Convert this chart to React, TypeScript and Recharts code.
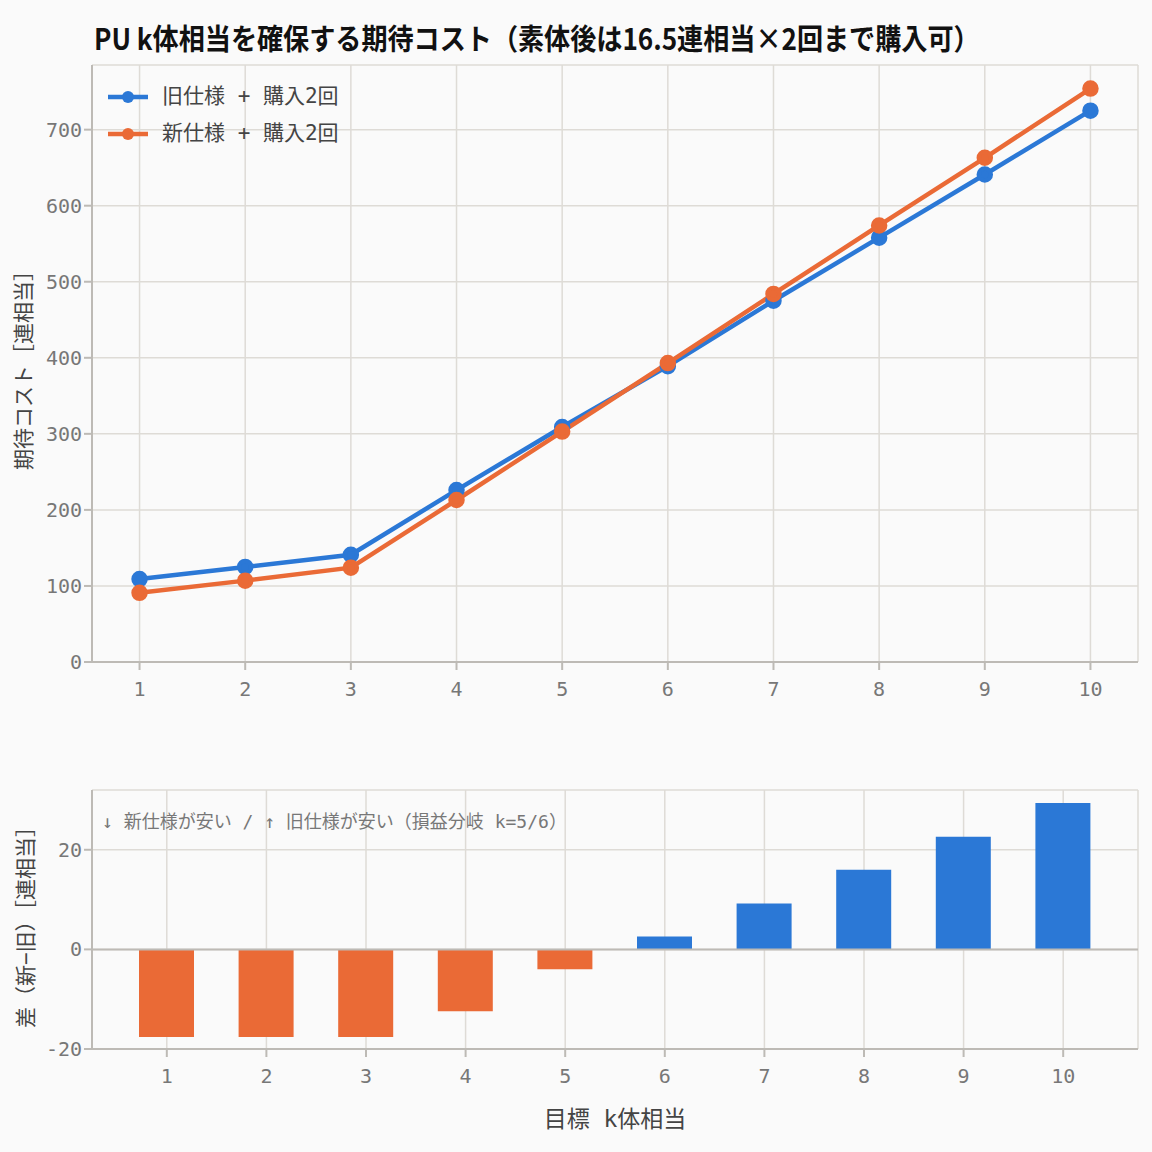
import React from 'react'
import {
  LineChart, Line, BarChart, Bar, XAxis, YAxis, CartesianGrid, ReferenceLine, Cell,
} from 'recharts'

const kValues = [1, 2, 3, 4, 5, 6, 7, 8, 9, 10]
const oldCost = [109, 125, 141, 226, 309, 389, 475, 558, 641, 725]
const newCost = [91, 107, 124, 213, 303, 393, 484, 574, 663, 754]
const diffValues = [-17.6, -17.6, -17.6, -12.4, -4, 2.6, 9.2, 16, 22.6, 29.4]
const topTicks = [0, 100, 200, 300, 400, 500, 600, 700]
const bottomTicks = [-20, 0, 20]

const lineData = kValues.map((k, i) => ({ k, old: oldCost[i], nw: newCost[i] }))
const barData = kValues.map((k, i) => ({ k: String(k), diff: diffValues[i] }))

const FONT = '"DejaVu Sans Mono", "Noto Sans CJK JP", monospace'
const BLUE = '#2b78d6'
const ORANGE = '#ea6a36'
const GRID = '#dedbd6'
const AXIS = '#bdbab5'
const tick = { fill: '#777', fontSize: 20, fontFamily: FONT }

export default function App() {
  return (
    <div style={{ position: 'relative', width: 1152, height: 1152, background: '#fafafa', fontFamily: FONT }}>
      <style>{'body{margin:0}'}</style>
      <div style={{ position: 'absolute', left: 94, top: 16, fontSize: 29, fontWeight: 'bold', color: '#111', fontFamily: '"Noto Sans CJK JP", sans-serif', transform: 'scaleX(0.9)', transformOrigin: 'left', whiteSpace: 'nowrap' }}>
        PU k体相当を確保する期待コスト（素体後は16.5連相当×2回まで購入可）
      </div>

      <div style={{ position: 'absolute', left: 0, top: 0 }}>
        <LineChart width={1152} height={700} data={lineData} margin={{ top: 65, right: 14, bottom: 8, left: 20 }}>
          <CartesianGrid stroke={GRID} strokeWidth={1.5} />
          <XAxis dataKey="k" type="number" domain={[0.55, 10.45]} ticks={kValues} tick={tick}
            stroke={AXIS} strokeWidth={2} tickSize={8} tickMargin={12} />
          <YAxis width={72} domain={[0, 785]} ticks={topTicks} tick={tick} stroke={AXIS} strokeWidth={2}
            tickSize={8} />
          <Line dataKey="old" stroke={BLUE} strokeWidth={4.5} dot={{ r: 6, fill: BLUE, stroke: BLUE }} isAnimationActive={false} />
          <Line dataKey="nw" stroke={ORANGE} strokeWidth={4.5} dot={{ r: 6, fill: ORANGE, stroke: ORANGE }} isAnimationActive={false} />
        </LineChart>
      </div>

      <div style={{ position: 'absolute', left: 104, top: 78, fontSize: 21, color: '#444', lineHeight: '37px' }}>
        {[{ c: BLUE, t: '旧仕様 + 購入2回' }, { c: ORANGE, t: '新仕様 + 購入2回' }].map((l) => (
          <div key={l.t} style={{ display: 'flex', alignItems: 'center' }}>
            <svg width={48} height={20} style={{ marginRight: 10 }}>
              <line x1={4} y1={10} x2={44} y2={10} stroke={l.c} strokeWidth={4.5} />
              <circle cx={24} cy={10} r={6} fill={l.c} />
            </svg>
            {l.t}
          </div>
        ))}
      </div>

      <div style={{ position: 'absolute', left: 22, top: 365, transform: 'translate(-50%,-50%) rotate(-90deg)', fontSize: 21, color: '#444', whiteSpace: 'nowrap' }}>
        期待コスト［連相当］
      </div>

      <div style={{ position: 'absolute', left: 0, top: 700 }}>
        <BarChart width={1152} height={452} data={barData} margin={{ top: 90, right: 14, bottom: 73, left: 20 }} barSize={55}>
          <CartesianGrid stroke={GRID} strokeWidth={1.5} />
          <XAxis dataKey="k" tick={tick} stroke={AXIS} strokeWidth={2} tickSize={8} tickMargin={12} padding={{ left: 25, right: 25 }} />
          <YAxis width={72} domain={[-20, 32]} ticks={bottomTicks} tick={tick} stroke={AXIS} strokeWidth={2} tickSize={8} />
          <ReferenceLine y={0} stroke={AXIS} strokeWidth={2} />
          <Bar dataKey="diff" isAnimationActive={false}>
            {barData.map((d, i) => (
              <Cell key={i} fill={d.diff < 0 ? ORANGE : BLUE} />
            ))}
          </Bar>
        </BarChart>
      </div>

      <div style={{ position: 'absolute', left: 102, top: 807, fontSize: 18, color: '#777', whiteSpace: 'nowrap' }}>
        ↓ 新仕様が安い / ↑ 旧仕様が安い（損益分岐 k=5/6）
      </div>
      <div style={{ position: 'absolute', left: 24, top: 922, transform: 'translate(-50%,-50%) rotate(-90deg)', fontSize: 21, color: '#444', whiteSpace: 'nowrap' }}>
        差（新−旧）［連相当］
      </div>
      <div style={{ position: 'absolute', left: 615, top: 1117, transform: 'translate(-50%,-50%)', fontSize: 23, color: '#444', whiteSpace: 'nowrap' }}>
        目標 k体相当
      </div>
    </div>
  )
}
